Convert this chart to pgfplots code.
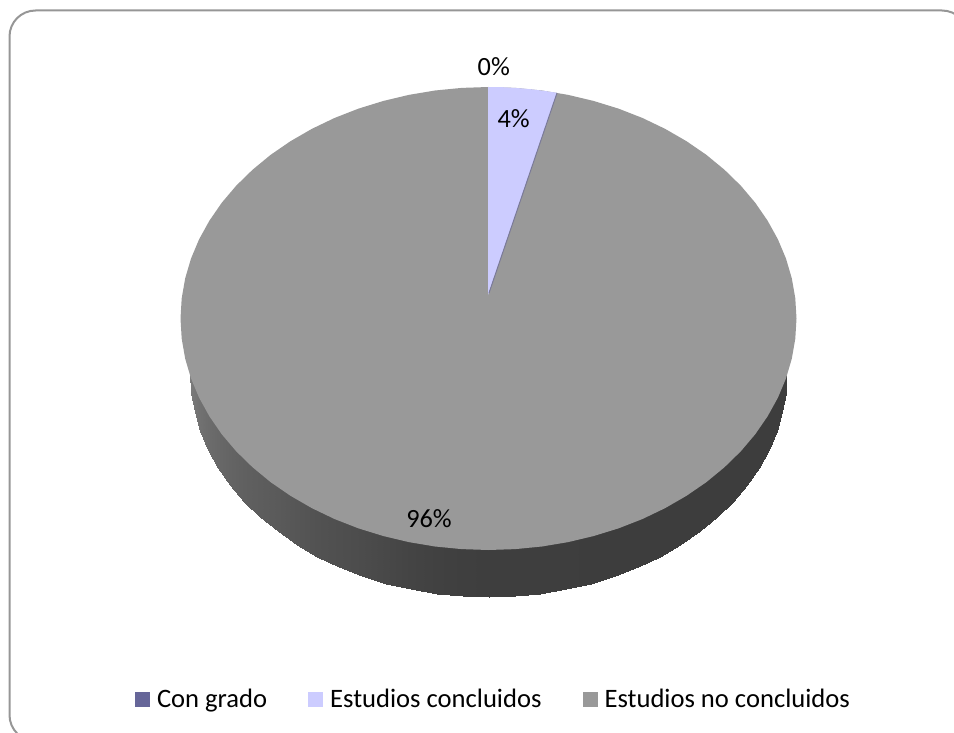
\documentclass[border=0pt]{standalone}
\usepackage{fontspec}
\setmainfont{Carlito}
\usepackage{pgfplots}
\usepgfplotslibrary{patchplots}
\pgfplotsset{compat=1.18}

\definecolor{congrado}{HTML}{666699}
\definecolor{concluidos}{HTML}{CCCCFF}
\definecolor{noconcluidos}{HTML}{999999}
\definecolor{marco}{HTML}{969696}

% legend swatch
\pgfplotsset{
  cuadro/.style={
    legend image code/.code={
      \fill[##1, draw=none] (0pt,-7.5pt) rectangle (15pt,7.5pt);
    }
  }
}

\begin{document}
\begin{tikzpicture}
\useasboundingbox (0pt,0pt) rectangle (954pt,733pt);
\begin{axis}[
  width=954pt,
  height=733pt,
  scale only axis,
  at={(0pt,0pt)},
  xmin=0, xmax=954,
  ymin=0, ymax=733,
  y dir=reverse,
  hide axis,
  colormap={grises}{color(0)=(black) color(1)=(white)},
  point meta min=0,
  point meta max=255,
  legend columns=3,
  legend cell align=left,
  legend style={
    draw=none, fill=none, inner sep=0pt, outer sep=0pt,
    at={(axis cs:135,699.5)}, anchor=west,
    font=\fontsize{26.6}{30}\selectfont,
    nodes={inner xsep=0pt, inner ysep=0pt},
    /tikz/every even column/.append style={column sep=41pt},
    /tikz/every odd column/.append style={column sep=7pt},
  },
]

\draw[marco, line width=2pt, rounded corners=26pt]
  (axis cs:9.5,10.5) rectangle (axis cs:968,741);

% side wall of the disc
\addplot[surf, shader=interp, mesh/ordering=y varies, mesh/rows=2, point meta=explicit, forget plot]
table[x=x, y=y, meta=m] {
x y m
190.1 313.0 125
190.1 373.0 125
191.2 332.5 122
191.2 392.5 122
194.6 351.9 118
194.6 411.9 118
200.3 371.0 113
200.3 431.0 113
208.1 389.6 108
208.1 449.6 108
218.1 407.7 104
218.1 467.7 104
230.1 425.0 100
230.1 485.0 100
244.1 441.5 96
244.1 501.5 96
259.9 457.0 93
259.9 517.0 93
277.5 471.4 90
277.5 531.4 90
296.7 484.6 86
296.7 544.6 86
317.3 496.5 82
317.3 556.5 82
339.3 507.0 79
339.3 567.0 79
362.4 516.0 76
362.4 576.0 76
386.4 523.5 72
386.4 583.5 72
411.3 529.4 68
411.3 589.4 68
436.7 533.6 65
436.7 593.6 65
462.5 536.1 63
462.5 596.1 63
488.5 537.0 62
488.5 597.0 62
514.5 536.1 62
514.5 596.1 62
540.3 533.6 62
540.3 593.6 62
565.7 529.4 62
565.7 589.4 62
590.6 523.5 61
590.6 583.5 61
614.6 516.0 61
614.6 576.0 61
637.7 507.0 61
637.7 567.0 61
659.7 496.5 61
659.7 556.5 61
680.3 484.6 61
680.3 544.6 61
699.5 471.4 61
699.5 531.4 61
717.1 457.0 61
717.1 517.0 61
732.9 441.5 61
732.9 501.5 61
746.9 425.0 61
746.9 485.0 61
758.9 407.7 61
758.9 467.7 61
768.9 389.6 61
768.9 449.6 61
776.7 371.0 61
776.7 431.0 61
782.4 351.9 61
782.4 411.9 61
785.8 332.5 61
785.8 392.5 61
786.9 313.0 61
786.9 373.0 61
};

% top face: Estudios no concluidos (96%)
\addplot[fill=noconcluidos, draw=none, forget plot] coordinates {
  (488.5,87) (515.4,87.9) (542.0,90.5) (568.2,94.9) (593.8,101) (618.7,108.7)
  (642.5,118) (665.2,128.9) (686.5,141.2) (706.3,154.8) (724.4,169.7) (740.8,185.7)
  (755.2,202.7) (767.6,220.7) (777.9,239.3) (786.0,258.6) (791.8,278.3) (795.3,298.3)
  (796.5,318.5) (795.3,338.7) (791.8,358.7) (786.0,378.4) (777.9,397.7) (767.6,416.3)
  (755.2,434.3) (740.8,451.3) (724.4,467.3) (706.3,482.2) (686.5,495.8) (665.2,508.1)
  (642.5,519) (618.7,528.3) (593.8,536) (568.2,542.1) (542.0,546.5) (515.4,549.1)
  (488.5,550) (461.6,549.1) (435.0,546.5) (408.8,542.1) (383.2,536) (358.3,528.3)
  (334.5,519) (311.8,508.1) (290.5,495.8) (270.7,482.2) (252.6,467.3) (236.2,451.3)
  (221.8,434.3) (209.4,416.3) (199.1,397.7) (191.0,378.4) (185.2,358.7) (181.7,338.7)
  (180.5,318.5) (181.7,298.3) (185.2,278.3) (191.0,258.6) (199.1,239.3) (209.4,220.7)
  (221.8,202.7) (236.2,185.7) (252.6,169.7) (270.7,154.8) (290.5,141.2) (311.8,128.9)
  (334.5,118) (358.3,108.7) (383.2,101) (408.8,94.9) (435.0,90.5) (461.6,87.9)
} --cycle;

% Estudios concluidos (4%)
\addplot[fill=concluidos, draw=none, forget plot] coordinates {
  (488,295) (488,87) (502.5,87.2) (516.5,88) (530.5,89.2) (544.5,90.9) (557,92.8)
} --cycle;
\addplot[color=congrado!60!noconcluidos, line width=1pt, forget plot] coordinates {
  (489,293) (557,93)
};

\addlegendimage{cuadro, fill=congrado}
\addlegendentry{Con grado}
\addlegendimage{cuadro, fill=concluidos}
\addlegendentry{Estudios concluidos}
\addlegendimage{cuadro, fill=noconcluidos}
\addlegendentry{Estudios no concluidos}

\node[font=\fontsize{26.3}{30}\selectfont, text=black] at (axis cs:493.8,66.7) {0\%};
\node[font=\fontsize{26.3}{30}\selectfont, text=black] at (axis cs:513.7,119) {4\%};
\node[font=\fontsize{26.3}{30}\selectfont, text=black] at (axis cs:429,519) {96\%};
\end{axis}
\end{tikzpicture}
\end{document}
